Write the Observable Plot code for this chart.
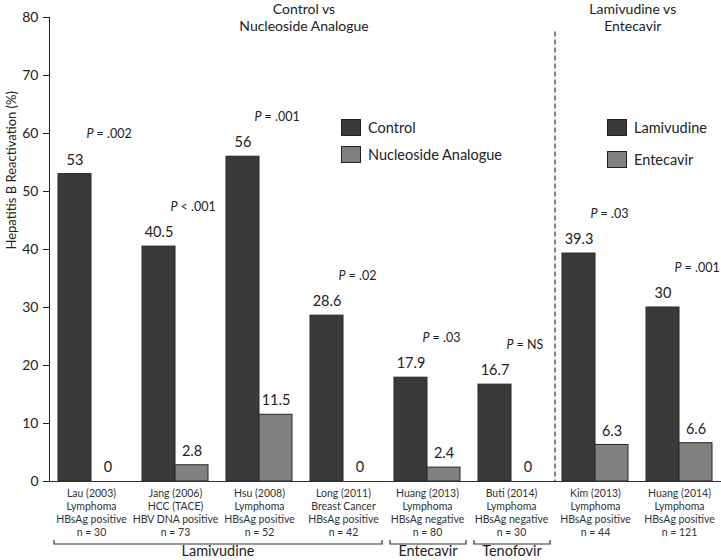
<!DOCTYPE html>
<html><head><meta charset="utf-8">
<script src="https://cdn.jsdelivr.net/npm/d3@7"></script>
<script src="https://cdn.jsdelivr.net/npm/@observablehq/plot@0.6"></script>
<style>
body{margin:0;background:#fff;font-family:Lato, sans-serif;}
#wrap{position:relative;width:721px;height:560px;}
.title{position:absolute;top:0px;text-align:center;font-size:14px;line-height:17px;color:#222;transform:translateX(-50%);white-space:nowrap;}
.legend{position:absolute;font-size:14.5px;color:#222;}
.legend .row{display:flex;align-items:center;height:17px;}
.sw{width:20px;height:17px;border:1px solid #222;margin-right:7px;box-sizing:border-box;}
</style></head>
<body><div id="wrap"></div>
<script>
const studies = ["Lau (2003)", "Jang (2006)", "Hsu (2008)", "Long (2011)", "Huang (2013)", "Buti (2014)", "Kim (2013)", "Huang (2014)"];
const conditions = ["Lymphoma", "HCC (TACE)", "Lymphoma", "Breast Cancer", "Lymphoma", "Lymphoma", "Lymphoma", "Lymphoma"];
const statuses = ["HBsAg positive", "HBV DNA positive", "HBsAg positive", "HBsAg positive", "HBsAg negative", "HBsAg negative", "HBsAg positive", "HBsAg positive"];
const nValues = [30, 73, 52, 42, 80, 30, 44, 121];
const firstArm = [53, 40.5, 56, 28.6, 17.9, 16.7, 39.3, 30];
const secondArm = [0, 2.8, 11.5, 0, 2.4, 0, 6.3, 6.6];
const pValues = ["= .002", "< .001", "= .001", "= .02", "= .03", "= NS", "= .03", "= .001"];
const drugGroups = ["Lamivudine", "Lamivudine", "Lamivudine", "Lamivudine", "Entecavir", "Tenofovir", null, null];
const yTicks = [0, 10, 20, 30, 40, 50, 60, 70, 80];
const armKeys = ["first", "second"];
const armColors = ["#3a3a3a", "#808080"];
const panelTitles = [["Control vs", "Nucleoside Analogue"], ["Lamivudine vs", "Entecavir"]];
const legendLabels = [["Control", "Nucleoside Analogue"], ["Lamivudine", "Entecavir"]];
const yLabel = "Hepatitis B Reactivation (%)";

const rows = studies.flatMap((s, i) => [
  {study: s, arm: "first", value: firstArm[i]},
  {study: s, arm: "second", value: secondArm[i]}
]);
const pRows = studies.map((s, i) => ({study: s, top: firstArm[i], p: pValues[i]}));

const fxFormat = d => {
  const i = studies.indexOf(d);
  return [d, conditions[i], statuses[i], "n = " + nValues[i]].join("\n");
};

const chart = Plot.plot({
  width: 721, height: 560,
  marginTop: 17, marginBottom: 79, marginLeft: 49, marginRight: 0,
  style: {fontFamily: "Lato, sans-serif", fontSize: "14px", color: "#222", background: "#fff"},
  fx: {domain: studies, padding: 0},
  x: {domain: armKeys, paddingInner: 0, paddingOuter: 0.25, axis: null},
  y: {domain: [0, 80], ticks: yTicks, tickSize: 6, tickPadding: 5, line: true, label: null},
  color: {domain: armKeys, range: armColors},
  marks: [
    Plot.barY(rows, {fx: "study", x: "arm", y: "value", fill: "arm", stroke: "#262626", strokeWidth: 1}),
    Plot.ruleY([0], {stroke: "#333"}),
    Plot.text(rows, {fx: "study", x: "arm", y: "value", text: d => String(d.value), dy: -14, fontSize: 14.5, fill: "#222"}),
    Plot.text(pRows, {fx: "study", y: "top", text: () => "P", fontStyle: "italic", textAnchor: "end", dx: 2, dy: -40, fontSize: 12.5, fill: "#222"}),
    Plot.text(pRows, {fx: "study", y: "top", text: "p", textAnchor: "start", dx: 5, dy: -40, fontSize: 12.5, fill: "#222"}),
    Plot.text([{study: studies[0]}], {fx: "study", frameAnchor: "left", text: () => yLabel, rotate: -90, dx: -38, fontSize: 13, fill: "#222"}),
    Plot.axisFx({anchor: "bottom", tickSize: 0, tickPadding: 6, fontSize: 10.5, lineHeight: 1.24, label: null, tickFormat: fxFormat, fill: "#333"})
  ]
});

const wrap = document.getElementById("wrap");
wrap.appendChild(chart);

const fx = chart.scale("fx");
const ys = chart.scale("y");
const bw = fx.bandwidth;
const svg = d3.select(chart);
const y0 = ys.apply(0);

// dashed separator between panels
const sepX = fx.apply(studies[6]) + 2;
svg.append("line").attr("x1", sepX).attr("x2", sepX).attr("y1", ys.apply(77.5)).attr("y2", y0)
  .attr("stroke", "#333").attr("stroke-width", 1.2).attr("stroke-dasharray", "5,3");

// drug group brackets
const groups = d3.groups(studies.map((s, i) => ({s, g: drugGroups[i]})).filter(d => d.g), d => d.g);
const by = y0 + 63;
groups.forEach(([g, items]) => {
  const x1 = fx.apply(items[0].s) + 5;
  const x2 = fx.apply(items[items.length - 1].s) + bw - 3;
  svg.append("path").attr("d", `M${x1},${by - 4}V${by}H${x2}V${by - 4}`)
    .attr("fill", "none").attr("stroke", "#333").attr("stroke-width", 1.2);
  svg.append("text").attr("x", (x1 + x2) / 2).attr("y", by + 7).attr("dy", "0.35em")
    .attr("text-anchor", "middle").attr("font-size", 14.5).attr("fill", "#222").text(g);
});

// panel titles
const titleCenters = [(fx.apply(studies[0]) + fx.apply(studies[5]) + bw) / 2 + 3, fx.apply(studies[6]) + bw * 0.95];
panelTitles.forEach((lines, k) => {
  const d = document.createElement("div");
  d.className = "title";
  d.style.left = titleCenters[k] + "px";
  d.innerHTML = lines.join("<br>");
  wrap.appendChild(d);
});

// legends
const legendPos = [{x: fx.apply(studies[3]) + 40, y: ys.apply(62) - 2, gap: 10}, {x: fx.apply(studies[6]) + 54, y: ys.apply(62) - 2, gap: 15}];
legendLabels.forEach((labels, k) => {
  const L = document.createElement("div");
  L.className = "legend";
  L.style.left = legendPos[k].x + "px";
  L.style.top = legendPos[k].y + "px";
  labels.forEach((lab, j) => {
    const r = document.createElement("div");
    r.className = "row";
    if (j > 0) r.style.marginTop = legendPos[k].gap + "px";
    r.innerHTML = `<div class="sw" style="background:${armColors[j]}"></div><span>${lab}</span>`;
    L.appendChild(r);
  });
  wrap.appendChild(L);
});
</script>
</body></html>
